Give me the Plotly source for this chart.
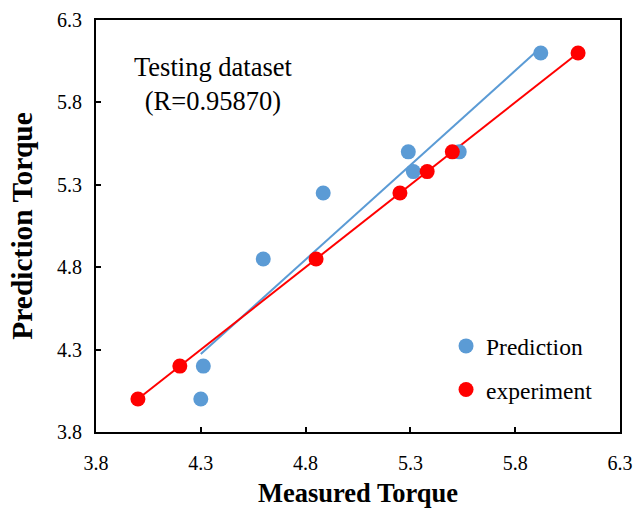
import numpy as np
import plotly.graph_objects as go

# Prediction series (measured, predicted)
pred_x = [5.922, 5.290, 5.533, 5.314, 4.884, 4.598, 4.312, 4.300]
pred_y = [6.10, 5.50, 5.50, 5.38, 5.25, 4.85, 4.20, 4.00]

# Experiment series
exp_x = [6.10, 5.50, 5.38, 5.25, 4.85, 4.20, 4.00]
exp_y = [6.10, 5.50, 5.38, 5.25, 4.85, 4.20, 4.00]

tick_vals = [3.8, 4.3, 4.8, 5.3, 5.8, 6.3]
annotation_text = "Testing dataset<br>(R=0.95870)"

BLUE = "#5B9BD5"
RED = "#FF0000"
FONT = "Liberation Serif, Times New Roman, serif"

# linear trendline for prediction
coef = np.polyfit(pred_x, pred_y, 1)
tx = np.array([min(pred_x), max(pred_x)])
ty = np.polyval(coef, tx)

# experiment line (sorted)
order = np.argsort(exp_x)
ex_sorted = np.array(exp_x)[order]
ey_sorted = np.array(exp_y)[order]

fig = go.Figure()
fig.add_trace(go.Scatter(x=tx, y=ty, mode="lines", line=dict(color=BLUE, width=2),
                         showlegend=False, hoverinfo="skip"))
fig.add_trace(go.Scatter(x=ex_sorted, y=ey_sorted, mode="lines", line=dict(color=RED, width=2),
                         showlegend=False, hoverinfo="skip"))
fig.add_trace(go.Scatter(x=pred_x, y=pred_y, mode="markers", name="Prediction",
                         marker=dict(color=BLUE, size=15), legendgroup="a"))
fig.add_trace(go.Scatter(x=exp_x, y=exp_y, mode="markers", name="experiment",
                         marker=dict(color=RED, size=15), legendgroup="b"))

axis_common = dict(
    range=[3.8, 6.3], tickvals=tick_vals, ticktext=[f"{v:.1f}" for v in tick_vals],
    showgrid=False, zeroline=False, showline=True, linecolor="black", linewidth=2,
    mirror=True, ticks="inside", ticklen=5, tickwidth=1.5, tickcolor="black",
    tickfont=dict(family=FONT, size=20, color="black"), automargin=False,
)

fig.update_xaxes(**axis_common,
                 title=dict(text="<b>Measured Torque</b>", font=dict(family=FONT, size=26.5, color="black"), standoff=16),
                 ticklabelstandoff=12)
fig.update_yaxes(**axis_common,
                 title=dict(text="<b>Prediction Torque</b>", font=dict(family=FONT, size=29.5, color="black"), standoff=16),
                 ticklabelstandoff=8)

fig.add_annotation(text=annotation_text, xref="x", yref="y", x=4.358, y=5.912,
                   showarrow=False, align="center",
                   font=dict(family=FONT, size=26.5, color="black"))

fig.update_layout(
    width=634, height=508,
    margin=dict(l=96, r=14, t=20, b=76),
    paper_bgcolor="white", plot_bgcolor="white",
    legend=dict(x=0.668, y=0.155, xanchor="left", yanchor="middle",
                font=dict(family=FONT, size=23.5, color="black"),
                bgcolor="rgba(0,0,0,0)", tracegroupgap=10, itemwidth=30),
)

fig.write_html("out.html")
